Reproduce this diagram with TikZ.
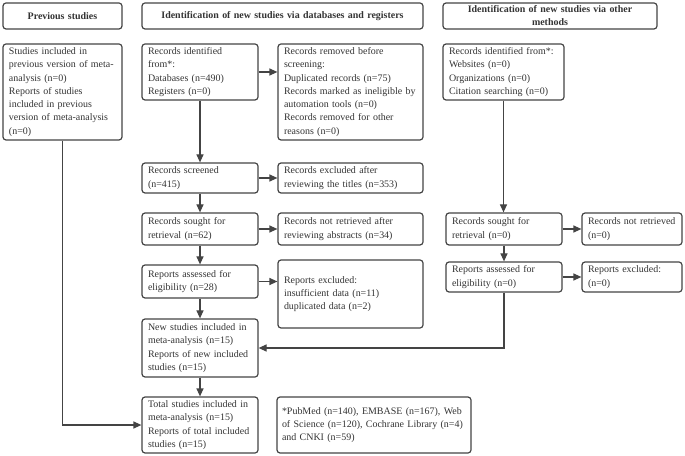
\documentclass[tikz,border=0pt]{standalone}
\usepackage{fontspec}
\setmainfont{Liberation Serif}
\usetikzlibrary{arrows.meta}
\definecolor{ln}{HTML}{444444}
\definecolor{tx}{HTML}{333333}
\tikzset{
  box/.style={draw=ln, line width=1.2bp, rounded corners=3bp, inner xsep=6bp, inner ysep=2bp,
    align=left, text=tx, font=\fontsize{10}{13.3}\selectfont, anchor=center},
  hbox/.style={box, align=center, font=\bfseries\fontsize{10}{13}\selectfont},
  conn/.style={draw=ln, line width=1.2bp, -{Triangle[length=8bp,width=7bp]}},
  plain/.style={draw=ln, line width=1.2bp}
}
\newcommand{\bx}[7]{\node[#1, text width=#4bp-12bp, minimum height=#5bp] (#2) at (#3,#6) {#7};}
\begin{document}
\begin{tikzpicture}[x=1bp,y=-1bp]
\useasboundingbox (0,0) rectangle (685,456);
% headers
\bx{hbox}{h1}{62.5}{119}{26}{16}{Previous studies}
\bx{hbox}{h2}{282.5}{281}{26}{16}{Identification of new studies via databases and registers}
\bx{hbox}{h3}{550}{214}{26}{16}{Identification of new studies via other\\methods}
% previous
\bx{box}{prev}{62.5}{119}{96}{92}{Studies included in\\previous version of meta-\\analysis (n=0)\\Reports of studies\\included in previous\\version of meta-analysis\\(n=0)}
% databases column
\bx{box}{rid}{200}{116}{56}{72}{Records identified\\from*:\\Databases (n=490)\\Registers (n=0)}
\bx{box}{rrem}{350.5}{145}{96}{92}{Records removed before\\screening:\\Duplicated records (n=75)\\Records marked as ineligible by\\automation tools (n=0)\\Records removed for other\\reasons (n=0)}
\bx{box}{rscr}{200}{116}{30}{178}{Records screened\\(n=415)}
\bx{box}{rexc}{350.5}{145}{30}{178}{Records excluded after\\reviewing the titles (n=353)}
\bx{box}{rsou}{200}{116}{32}{229}{Records sought for\\retrieval (n=62)}
\bx{box}{rnot}{350.5}{145}{32}{229}{Records not retrieved after\\reviewing abstracts (n=34)}
\bx{box}{rass}{200}{116}{33}{281.5}{Reports assessed for\\eligibility (n=28)}
\bx{box}{rexl}{350.5}{145}{68}{294}{Reports excluded:\\insufficient data (n=11)\\duplicated data (n=2)}
\bx{box}{new}{200}{116}{58}{348}{New studies included in\\meta-analysis (n=15)\\Reports of new included\\studies (n=15)}
\bx{box}{tot}{200}{116}{56}{425}{Total studies included in\\meta-analysis (n=15)\\Reports of total included\\studies (n=15)}
\node[box, inner xsep=5bp, text width=184bp, minimum height=56bp] (foot) at (374,425) {*PubMed (n=140), EMBASE (n=167), Web\\of Science (n=120), Cochrane Library (n=4)\\and CNKI (n=59)};
% other methods column
\bx{box}{oid}{503.5}{121}{56}{72}{Records identified from*:\\Websites (n=0)\\Organizations (n=0)\\Citation searching (n=0)}
\bx{box}{osou}{504}{116}{32}{229}{Records sought for\\retrieval (n=0)}
\bx{box}{onot}{632}{100}{32}{229}{Records not retrieved\\(n=0)}
\bx{box}{oass}{504}{116}{30}{277}{Reports assessed for\\eligibility (n=0)}
\bx{box}{oexl}{632}{100}{30}{277}{Reports excluded:\\(n=0)}
% connectors
\draw[conn] (rid) -- (rscr);
\draw[conn] (rid.east) -- (rid.east -| rrem.west);
\draw[conn] (rscr) -- (rsou);
\draw[conn] (rscr.east) -- (rscr.east -| rexc.west);
\draw[conn] (rsou) -- (rass);
\draw[conn] (rsou.east) -- (rsou.east -| rnot.west);
\draw[conn] (rass) -- (new);
\draw[conn] (rass.east) -- (rass.east -| rexl.west);
\draw[conn] (new) -- (tot);
\draw[conn] (prev.south) |- (tot.west);
\draw[conn] (oid.south) -- (oid.south |- osou.north);
\draw[conn] (osou.east) -- (osou.east -| onot.west);
\draw[conn] (osou) -- (oass);
\draw[conn] (oass.east) -- (oass.east -| oexl.west);
\draw[conn] (oass.south) |- (new.east);
\end{tikzpicture}
\end{document}
